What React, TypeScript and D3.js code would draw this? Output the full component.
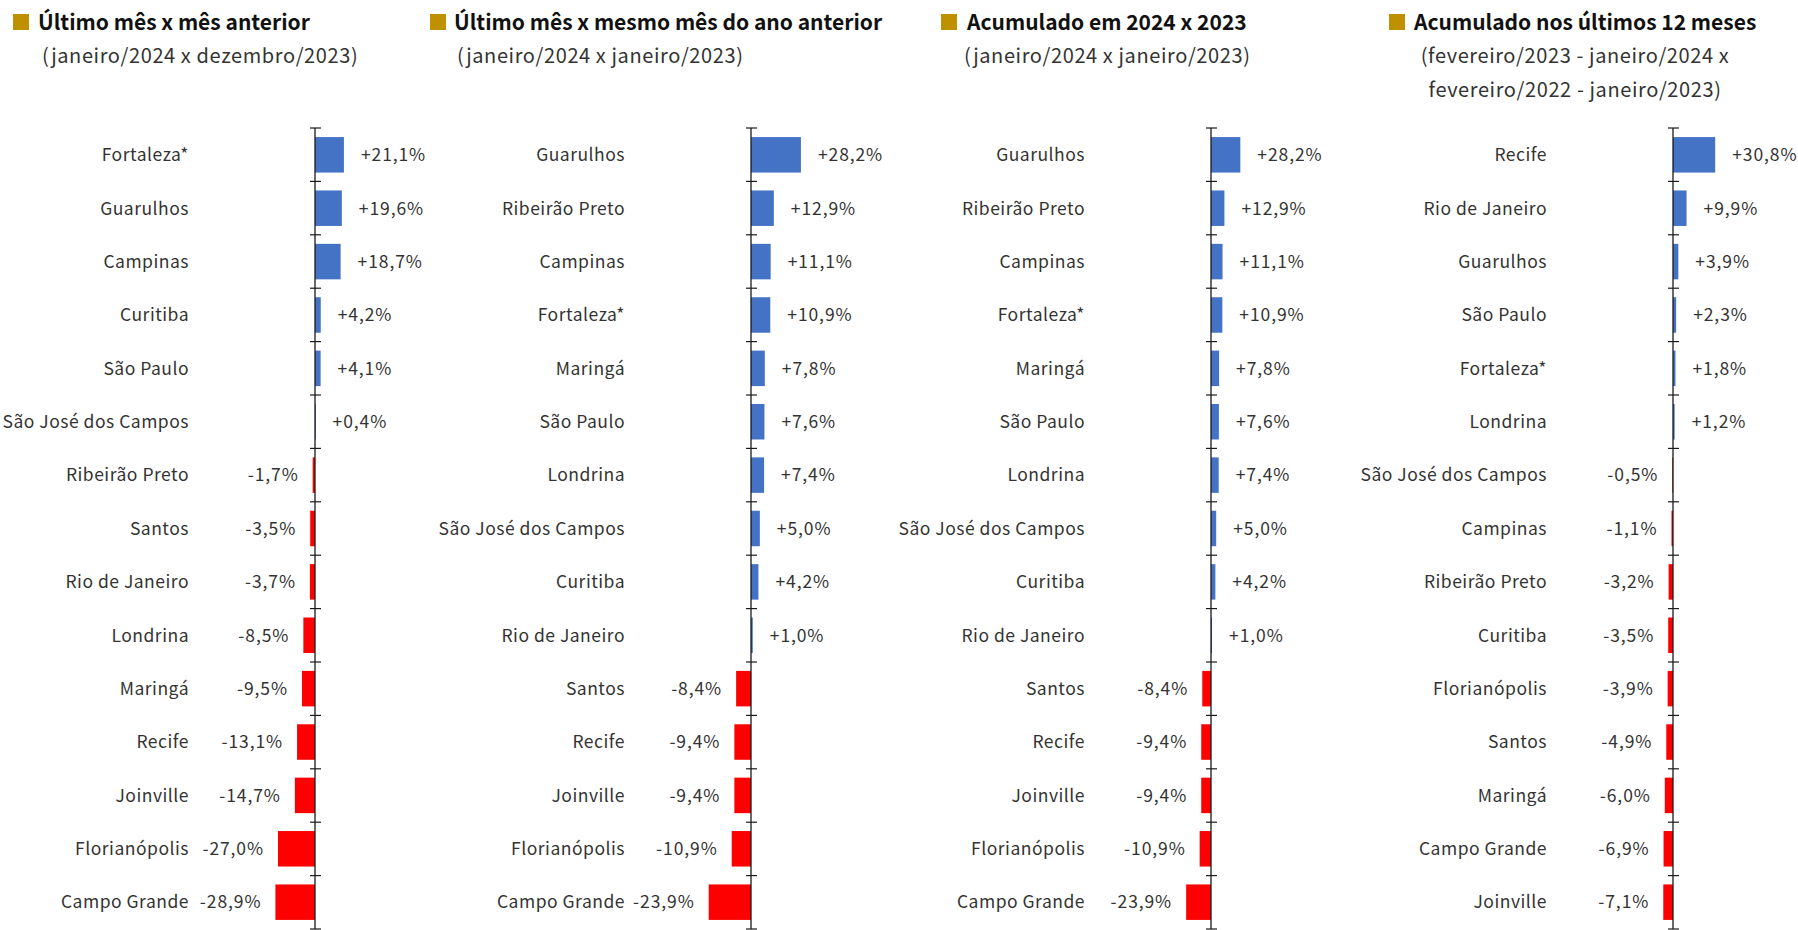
import React from 'react';
import * as d3 from 'd3';

// ---- data ----
const p1Cities = ['Fortaleza*', 'Guarulhos', 'Campinas', 'Curitiba', 'São Paulo', 'São José dos Campos', 'Ribeirão Preto', 'Santos', 'Rio de Janeiro', 'Londrina', 'Maringá', 'Recife', 'Joinville', 'Florianópolis', 'Campo Grande'];
const p1Values = [21.1, 19.6, 18.7, 4.2, 4.1, 0.4, -1.7, -3.5, -3.7, -8.5, -9.5, -13.1, -14.7, -27.0, -28.9];

const p2Cities = ['Guarulhos', 'Ribeirão Preto', 'Campinas', 'Fortaleza*', 'Maringá', 'São Paulo', 'Londrina', 'São José dos Campos', 'Curitiba', 'Rio de Janeiro', 'Santos', 'Recife', 'Joinville', 'Florianópolis', 'Campo Grande'];
const p2Values = [28.2, 12.9, 11.1, 10.9, 7.8, 7.6, 7.4, 5.0, 4.2, 1.0, -8.4, -9.4, -9.4, -10.9, -23.9];

const p3Cities = p2Cities;
const p3Values = [28.2, 12.9, 11.1, 10.9, 7.8, 7.6, 7.4, 5.0, 4.2, 1.0, -8.4, -9.4, -9.4, -10.9, -23.9];

const p4Cities = ['Recife', 'Rio de Janeiro', 'Guarulhos', 'São Paulo', 'Fortaleza*', 'Londrina', 'São José dos Campos', 'Campinas', 'Ribeirão Preto', 'Curitiba', 'Florianópolis', 'Santos', 'Maringá', 'Campo Grande', 'Joinville'];
const p4Values = [30.8, 9.9, 3.9, 2.3, 1.8, 1.2, -0.5, -1.1, -3.2, -3.5, -3.9, -4.9, -6.0, -6.9, -7.1];

const titles = ['Último mês x mês anterior', 'Último mês x mesmo mês do ano anterior', 'Acumulado em 2024 x 2023', 'Acumulado nos últimos 12 meses'];
const subtitles = [
  ['(janeiro/2024 x dezembro/2023)'],
  ['(janeiro/2024 x janeiro/2023)'],
  ['(janeiro/2024 x janeiro/2023)'],
  ['(fevereiro/2023 - janeiro/2024 x', 'fevereiro/2022 - janeiro/2023)'],
];

// layout per panel
const panels = [
  { cities: p1Cities, values: p1Values, sq: 13, tx: 38, sx: 42, axis: 315, domain: [-30, 30], span: 41.1 },
  { cities: p2Cities, values: p2Values, sq: 430, tx: 454, sx: 457, axis: 751, domain: [-30, 30], span: 53.1 },
  { cities: p3Cities, values: p3Values, sq: 941, tx: 967, sx: 964, axis: 1211, domain: [-30, 30], span: 31.2 },
  { cities: p4Cities, values: p4Values, sq: 1389, tx: 1414, sx: 1575, axis: 1673, domain: [-30, 30], span: 41.1 },
];

const W = 1798;
const H = 930;
const FONT = '"Noto Sans CJK JP", "Noto Sans", sans-serif';
const BLUE = '#4472C4';
const RED = '#FF0000';
const GOLD = '#BF9000';

const fmt = (v: number) => (v > 0 ? '+' : '') + v.toFixed(1).replace('.', ',') + '%';

const Panel = ({ p, i }: { p: typeof panels[number]; i: number }) => {
  const y = d3.scaleBand<string>().domain(p.cities).range([128, 929]).paddingInner(0.335).paddingOuter(0.17);
  const x = d3.scaleLinear().domain(p.domain).range([p.axis - p.span, p.axis + p.span]);
  const ticks = d3.range(p.cities.length + 1).map((k) => 128 + k * ((929 - 128) / p.cities.length));
  const subs = subtitles[i];
  return (
    <g>
      <rect x={p.sq} y={14} width={16} height={16} fill={GOLD} />
      <text x={p.tx} y={30} fontSize={21} fontWeight="bold" fill="#111">{titles[i]}</text>
      {subs.map((s, k) => (
        <text key={k} x={p.sx} y={63 + k * 34} fontSize={20} letterSpacing={0.6} fill="#333" textAnchor={subs.length > 1 ? 'middle' : 'start'}>{s}</text>
      ))}
      {p.cities.map((c, k) => {
        const v = p.values[k];
        const x0 = x(Math.min(0, v));
        const x1 = x(Math.max(0, v));
        const cy = (y(c) as number) + y.bandwidth() / 2;
        return (
          <g key={c}>
            <rect x={x0} y={y(c)} width={Math.max(0.8, x1 - x0)} height={y.bandwidth()} fill={v >= 0 ? BLUE : RED} />
            <text x={p.axis - 126} y={cy} dy="0.36em" textAnchor="end" fontSize={17.5} letterSpacing={0.5} fill="#333">{c}</text>
            <text x={v >= 0 ? x1 + 17 : x0 - 14} y={cy} dy="0.36em" textAnchor={v >= 0 ? 'start' : 'end'} fontSize={17.5} letterSpacing={0.9} fill="#333">{fmt(v)}</text>
          </g>
        );
      })}
      <line x1={p.axis} x2={p.axis} y1={128} y2={929} stroke="#1a1a1a" strokeWidth={1.3} />
      {ticks.map((t, k) => (
        <line key={k} x1={p.axis - 5} x2={p.axis + 6} y1={t} y2={t} stroke="#1a1a1a" strokeWidth={1.2} />
      ))}
    </g>
  );
};

export default function App() {
  return (
    <svg width={W} height={H} style={{ position: 'absolute', left: 0, top: 0, background: '#fff' }} fontFamily={FONT}>
      {panels.map((p, i) => (
        <Panel key={i} p={p} i={i} />
      ))}
    </svg>
  );
}
